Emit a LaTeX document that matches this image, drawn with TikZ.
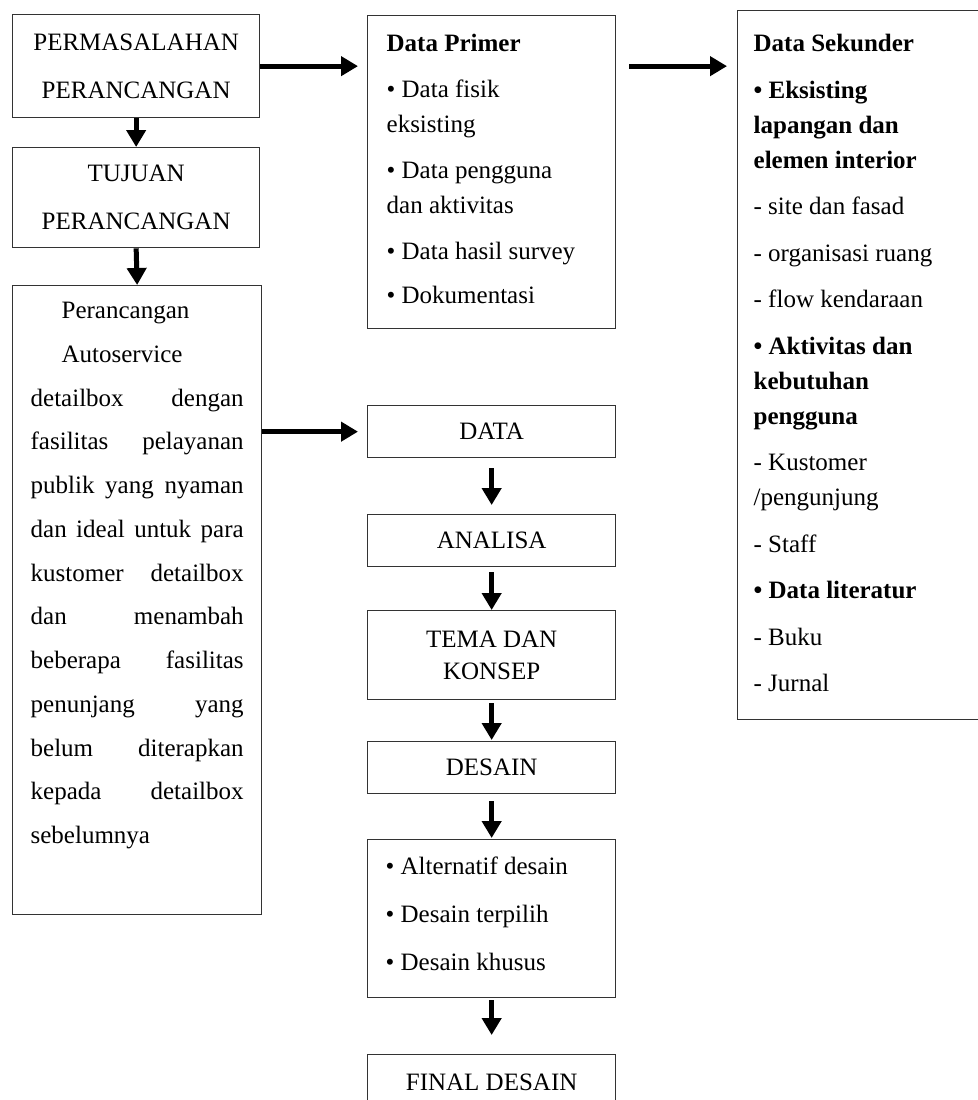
\documentclass[tikz,border=0pt]{standalone}
\usepackage{fontspec}
\setmainfont{Liberation Serif}
\usetikzlibrary{arrows.meta,calc}
\newcommand{\jline}[1]{\hbox to\linewidth{#1}}
\begin{document}
\begin{tikzpicture}[x=1pt,y=-1pt,
  box/.style={draw=black!80, line width=1.3pt, inner sep=0pt, anchor=north west},
  cbox/.style={box, align=center, minimum width=248pt, font=\fontsize{25}{48}\selectfont},
  arr/.style={line width=5pt, -{Triangle[length=17pt,width=19pt]}},
]
\useasboundingbox (0,0) rectangle (977,1100);
\fill[white] (0,0) rectangle (977,1100);

% left column
\node[cbox, minimum width=247pt, minimum height=103pt] (b1) at (12,14) {PERMASALAHAN\\PERANCANGAN};
\node[cbox, minimum width=247pt, minimum height=100pt] (b2) at (12,147) {TUJUAN\\PERANCANGAN};
\node[box, inner xsep=18pt, inner ysep=0pt] (b3) at (12,285) {\parbox[c][629pt][t]{213pt}{\fontsize{25}{43.75}\selectfont
\vspace*{16.5pt}
\jline{\hspace*{31pt}Perancangan\hfil}
\jline{\hspace*{31pt}Autoservice\hfil}
\jline{detailbox\hfill dengan}
\jline{fasilitas\hfill pelayanan}
\jline{publik\hfill yang\hfill nyaman}
\jline{dan\hfill ideal\hfill untuk\hfill para}
\jline{kustomer\hfill detailbox}
\jline{dan\hfill menambah}
\jline{beberapa\hfill fasilitas}
\jline{penunjang\hfill yang}
\jline{belum\hfill diterapkan}
\jline{kepada\hfill detailbox}
\jline{sebelumnya\hfil}}};

% data primer
\node[box, inner xsep=19pt, inner ysep=0pt] (primer) at (367,15) {\parbox[c][313pt][t]{210pt}{\fontsize{25}{35}\selectfont
\vspace*{18.5pt}
\jline{\textbf{Data Primer}\hfil}\vspace{11pt}
\jline{• Data fisik\hfil}
\jline{eksisting\hfil}\vspace{11pt}
\jline{• Data pengguna\hfil}
\jline{dan aktivitas\hfil}\vspace{11pt}
\jline{• Data hasil survey\hfil}\vspace{9pt}
\jline{• Dokumentasi\hfil}}};

% data sekunder
\node[box, inner xsep=16pt, inner ysep=0pt] (sek) at (737,10) {\parbox[c][709pt][t]{216pt}{\fontsize{25}{35}\selectfont
\vspace*{23.5pt}
\jline{\textbf{Data Sekunder}\hfil}\vspace{11.5pt}
\jline{\textbf{• Eksisting}\hfil}
\jline{\textbf{lapangan dan}\hfil}
\jline{\textbf{elemen interior}\hfil}\vspace{11.5pt}
\jline{- site dan fasad\hfil}\vspace{11.5pt}
\jline{- organisasi ruang\hfil}\vspace{11.5pt}
\jline{- flow kendaraan\hfil}\vspace{11.5pt}
\jline{\textbf{• Aktivitas dan}\hfil}
\jline{\textbf{kebutuhan}\hfil}
\jline{\textbf{pengguna}\hfil}\vspace{11.5pt}
\jline{- Kustomer\hfil}
\jline{/pengunjung\hfil}\vspace{11.5pt}
\jline{- Staff\hfil}\vspace{11.5pt}
\jline{\textbf{• Data literatur}\hfil}\vspace{11.5pt}
\jline{- Buku\hfil}\vspace{11.5pt}
\jline{- Jurnal\hfil}}};

% middle column
\node[cbox, minimum height=52pt] (data) at (367,405) {DATA};
\node[cbox, minimum height=52pt] (analisa) at (367,514) {ANALISA};
\node[cbox, minimum height=89pt, font=\fontsize{25}{32}\selectfont] (tema) at (367,610) {TEMA DAN\\KONSEP};
\node[cbox, minimum height=52pt] (desain) at (367,741) {DESAIN};
\node[box, inner xsep=18pt, inner ysep=0pt] (alt) at (367,839) {\parbox[c][158pt][t]{212pt}{\fontsize{25}{48}\selectfont
\vspace*{17pt}
\jline{• Alternatif desain\hfil}
\jline{• Desain terpilih\hfil}
\jline{• Desain khusus\hfil}}};
\node[cbox, minimum height=56pt] (final) at (367,1054) {FINAL DESAIN};

% connectors
\draw[arr] (b1.south) -- (b2.north);
\draw[arr] (b2.south) -- (b3.north);
\draw[arr, shorten >=9pt] (b1.east) -- (b1.east -| primer.west);
\draw[arr, shorten <=13pt, shorten >=10pt] (b1.east -| primer.east) -- (b1.east -| sek.west);
\draw[arr, shorten >=9pt] (b3.east |- data.west) -- (data.west);
\draw[arr, shorten <=10pt, shorten >=9pt] (data) -- (analisa);
\draw[arr, shorten <=5pt] (analisa) -- (tema);
\draw[arr, shorten <=3pt, shorten >=1pt] (tema) -- (desain);
\draw[arr, shorten <=7pt, shorten >=1pt] (desain) -- (alt);
\draw[arr, shorten <=2pt, shorten >=19pt] (alt) -- (final);
\end{tikzpicture}
\end{document}
